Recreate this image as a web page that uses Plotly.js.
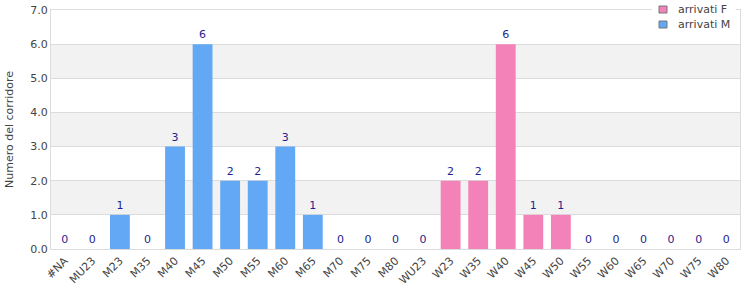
<!DOCTYPE html>
<html><head><meta charset="utf-8">
<script src="https://cdn.plot.ly/plotly-3.0.1.min.js"></script>
<style>body{margin:0;padding:0;background:#fff}#chart{width:750px;height:300px}</style>
</head><body><div id="chart"></div>
<script>
const categories = ["#NA","MU23","M23","M35","M40","M45","M50","M55","M60","M65","M70","M75","M80","WU23","W23","W35","W40","W45","W50","W55","W60","W65","W70","W75","W80"];
const catM = ["#NA","MU23","M23","M35","M40","M45","M50","M55","M60","M65","M70","M75","M80","WU23"];
const valM = [0,0,1,0,3,6,2,2,3,1,0,0,0,0];
const catF = ["W23","W35","W40","W45","W50","W55","W60","W65","W70","W75","W80"];
const valF = [2,2,6,1,1,0,0,0,0,0,0];
const yTicks = [0,1,2,3,4,5,6,7];
const bands = [[1,2],[3,4],[5,6]];
const colorF = "#f282b8", colorM = "#62a8f4";
const legendNames = ["arrivati F","arrivati M"];

const font = {family:"DejaVu Sans, sans-serif", size:11, color:"#444"};
const labelFont = {family:"DejaVu Sans, sans-serif", size:11, color:"#1f1f8f"};

const traces = [
  {type:"bar", name:legendNames[0], x:catF, y:valF, marker:{color:colorF, line:{width:0}},
   text:valF.map(String), textposition:"outside", textfont:labelFont, cliponaxis:false, width:0.72, showlegend:false},
  {type:"bar", name:legendNames[1], x:catM, y:valM, marker:{color:colorM, line:{width:0}},
   text:valM.map(String), textposition:"outside", textfont:labelFont, cliponaxis:false, width:0.72, showlegend:false}
];

// plot area in px: left 51, right 740, top 10, bottom 249
const L=51, W=689, B=249, H=239;
const px = v => (v-L)/W, py = v => (B-v)/H;

const shapes = bands.map(b => ({type:"rect", xref:"paper", x0:0, x1:1, yref:"y", y0:b[0], y1:b[1],
  fillcolor:"#f2f2f2", line:{width:0}, layer:"below"}));
// legend box (manual)
shapes.push({type:"rect", xref:"paper", yref:"paper", x0:px(652), x1:px(736), y0:py(32), y1:py(0),
  fillcolor:"#fff", line:{width:0}, layer:"above"});
shapes.push({type:"rect", xref:"paper", yref:"paper", x0:px(659), x1:px(667), y0:py(13), y1:py(6),
  fillcolor:colorF, line:{width:1, color:"#777"}, layer:"above"});
shapes.push({type:"rect", xref:"paper", yref:"paper", x0:px(659), x1:px(667), y0:py(28), y1:py(21),
  fillcolor:colorM, line:{width:1, color:"#777"}, layer:"above"});
const annotations = [
  {xref:"paper", yref:"paper", x:px(676), y:py(9.5), xanchor:"left", yanchor:"middle", text:legendNames[0], showarrow:false, font:font},
  {xref:"paper", yref:"paper", x:px(676), y:py(24.5), xanchor:"left", yanchor:"middle", text:legendNames[1], showarrow:false, font:font}
];

const layout = {
  width:750, height:300,
  margin:{l:51, r:10, t:10, b:51},
  paper_bgcolor:"#fff", plot_bgcolor:"#fff",
  font:font,
  barmode:"overlay",
  showlegend:false,
  xaxis:{type:"category", categoryorder:"array", categoryarray:categories, tickangle:-45,
    tickfont:font, showgrid:false, showline:true, mirror:true, linecolor:"#dcdcdc", linewidth:1,
    ticks:"", range:[-0.5, 24.5], fixedrange:true},
  yaxis:{range:[0,7], tickvals:yTicks, ticktext:yTicks.map(v=>v.toFixed(1)), tickfont:font,
    showgrid:true, gridcolor:"#dcdcdc", gridwidth:1, zeroline:false, showline:true, mirror:true,
    linecolor:"#dcdcdc", linewidth:1, ticks:"",
    title:{text:"Numero del corridore", font:{family:"DejaVu Sans, sans-serif", size:11, color:"#444"}, standoff:14}},
  shapes:shapes,
  annotations:annotations
};
Plotly.newPlot("chart", traces, layout, {displayModeBar:false, staticPlot:true});
</script></body></html>
